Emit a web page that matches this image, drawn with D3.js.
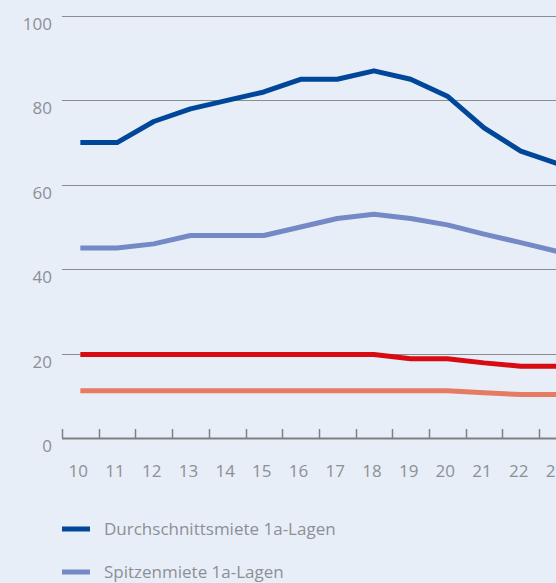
<!DOCTYPE html>
<html>
<head>
<meta charset="utf-8">
<script src="https://cdn.jsdelivr.net/npm/d3@7"></script>
<style>
  html, body { margin: 0; padding: 0; background: #e7eef7; overflow: hidden; }
  svg { display: block; }
  .tick text, .label { font-family: "Open Sans", "Noto Sans", sans-serif; fill: #8c9095; }
</style>
</head>
<body>
<div id="chart"></div>
<script>
// chart data
var years = ["10","11","12","13","14","15","16","17","18","19","20","21","22","23"];
var durchschnitt = [70, 70, 75, 78, 80, 82, 85, 85, 87, 85, 81, 73.5, 68, 65];
var spitze = [45, 45, 46, 48, 48, 48, 50, 52, 53, 52, 50.5, 48.3, 46.3, 44.2];
var rot = [19.8, 19.8, 19.8, 19.8, 19.8, 19.8, 19.8, 19.8, 19.8, 18.8, 18.8, 17.8, 17, 17];
var lachs = [11.2, 11.2, 11.2, 11.2, 11.2, 11.2, 11.2, 11.2, 11.2, 11.2, 11.2, 10.7, 10.3, 10.3];
var yTicks = [0, 20, 40, 60, 80, 100];
var legendNames = ["Durchschnittsmiete 1a-Lagen", "Spitzenmiete 1a-Lagen"];

var width = 556, height = 583;
var series = [
	{ values: durchschnitt, color: "#00479a" },
	{ values: spitze, color: "#7489c6" },
	{ values: rot, color: "#d80a12" },
	{ values: lachs, color: "#e57b62" }
];

var svg = d3.select("#chart")
	.append("svg")
		.attr("width", width)
		.attr("height", height);

// band scale runs past the right edge, like the cropped original
var x = d3.scaleBand()
	.domain(years)
	.range([62, 62 + 36.7 * years.length]);

var y = d3.scaleLinear()
	.domain([0, 100])
	.range([438, 16]);

// horizontal grid lines
svg.selectAll(".grid")
	.data(yTicks.filter(function(d) { return d > 0; }))
  .enter().append("line")
	.attr("class", "grid")
	.attr("x1", 62)
	.attr("x2", width)
	.attr("y1", function(d) { return Math.round(y(d)) + 0.5; })
	.attr("y2", function(d) { return Math.round(y(d)) + 0.5; })
	.style("stroke", "#8c8c8c")
	.style("stroke-width", 1);

// y labels sit just below their grid line
svg.selectAll(".ylab")
	.data(yTicks)
  .enter().append("text")
	.attr("class", "label")
	.attr("x", 52)
	.attr("y", function(d) { return y(d) + 14; })
	.style("text-anchor", "end")
	.style("font-size", "17px")
	.text(function(d) { return d; });

// x axis: baseline + ticks pointing up at band edges
svg.append("line")
	.attr("x1", 62)
	.attr("x2", width)
	.attr("y1", y(0) + 0.5)
	.attr("y2", y(0) + 0.5)
	.style("stroke", "#808080")
	.style("stroke-width", 2);

svg.selectAll(".xtick")
	.data(years)
  .enter().append("line")
	.attr("class", "xtick")
	.attr("x1", function(d) { return Math.round(x(d)) + 0.5; })
	.attr("x2", function(d) { return Math.round(x(d)) + 0.5; })
	.attr("y1", y(0) - 9)
	.attr("y2", y(0))
	.style("stroke", "#808080")
	.style("stroke-width", 1.5);

svg.selectAll(".xlab")
	.data(years)
  .enter().append("text")
	.attr("class", "label")
	.attr("x", function(d) { return x(d) + x.bandwidth() / 2 - 2; })
	.attr("y", 477)
	.style("text-anchor", "middle")
	.style("font-size", "17px")
	.text(function(d) { return d; });

var line = d3.line()
	.x(function(d, i) { return x(years[i]) + x.bandwidth() / 2; })
	.y(function(d) { return y(d); });

// draw lower series first so the blue lines stay on top
series.slice().reverse().forEach(function(s) {
	svg.append("path")
		.datum(s.values)
		.attr("d", line)
		.style("fill", "none")
		.style("stroke", s.color)
		.style("stroke-width", 5)
		.style("stroke-linejoin", "round");
});

// legend
var legend = svg.selectAll(".legend")
	.data(legendNames)
  .enter().append("g")
	.attr("class", "legend")
	.attr("transform", function(d, i) { return "translate(62," + (529 + i * 43) + ")"; });

legend.append("line")
	.attr("x1", 0)
	.attr("x2", 28)
	.style("stroke", function(d, i) { return series[i].color; })
	.style("stroke-width", 5);

legend.append("text")
	.attr("class", "label")
	.attr("x", 42)
	.attr("y", 6)
	.style("font-size", "17px")
	.text(function(d) { return d; });
</script>
</body>
</html>
